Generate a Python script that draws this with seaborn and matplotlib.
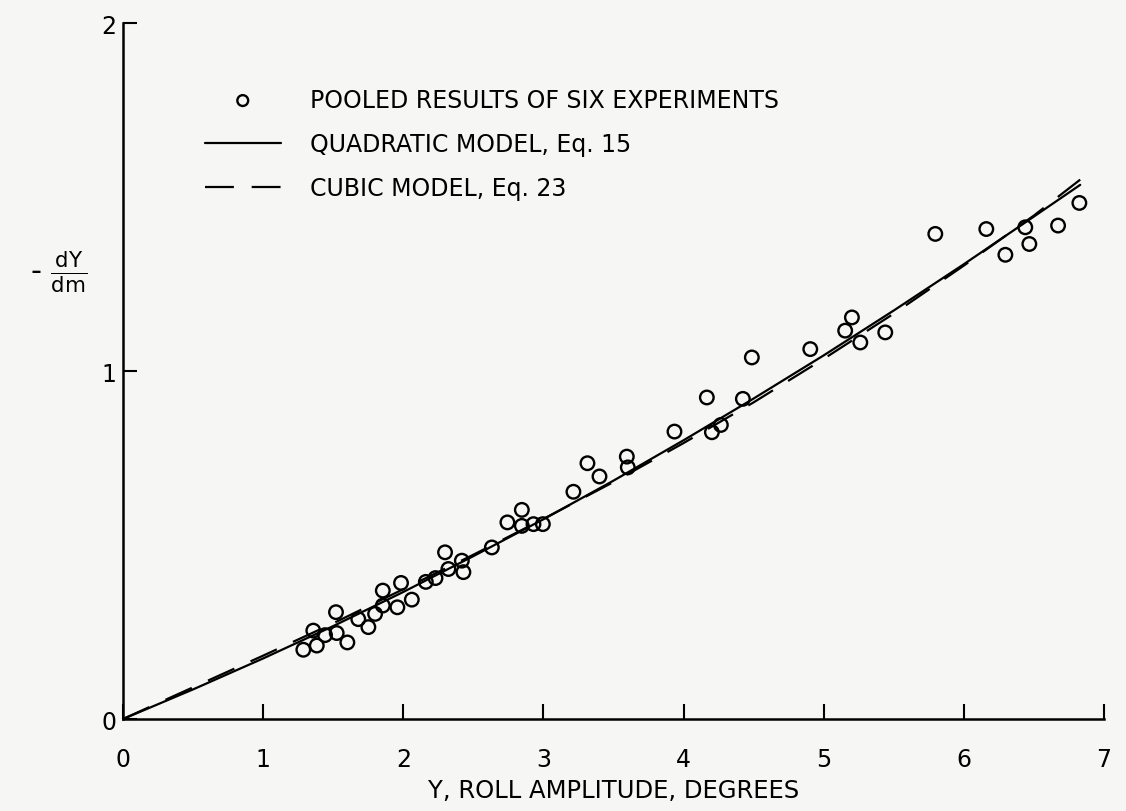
import matplotlib
matplotlib.use("Agg")
import matplotlib.pyplot as plt
import seaborn as sns
import pandas as pd

# ---- data ----
amp_deg = [1.287, 1.383, 1.358, 1.442, 1.525, 1.601, 1.520, 1.679, 1.751, 1.799,
           1.854, 1.854, 1.958, 1.984, 2.061, 2.161, 2.230, 2.322, 2.298, 2.418,
           2.429, 2.632, 2.743, 2.846, 2.846, 2.929, 2.996, 3.214, 3.314, 3.400,
           3.595, 3.602, 3.935, 4.166, 4.202, 4.266, 4.423, 4.487, 4.904, 5.153,
           5.201, 5.261, 5.439, 5.796, 6.160, 6.296, 6.438, 6.467, 6.672, 6.824]
dydm = [0.199, 0.211, 0.254, 0.241, 0.247, 0.220, 0.307, 0.287, 0.264, 0.302,
        0.326, 0.369, 0.321, 0.391, 0.343, 0.394, 0.405, 0.431, 0.479, 0.455,
        0.422, 0.493, 0.565, 0.601, 0.555, 0.560, 0.560, 0.653, 0.735, 0.697,
        0.754, 0.723, 0.826, 0.924, 0.824, 0.845, 0.920, 1.039, 1.063, 1.116,
        1.154, 1.082, 1.111, 1.394, 1.408, 1.334, 1.413, 1.365, 1.418, 1.483]

curve_x = [0.0, 0.5, 1.0, 1.5, 2.0, 2.5, 3.0, 3.5, 4.0, 4.5, 5.0, 5.5, 6.0, 6.5, 6.83]
quadratic_y = [0.0, 0.085, 0.174, 0.267, 0.365, 0.468, 0.574, 0.685, 0.801, 0.921,
               1.045, 1.174, 1.307, 1.444, 1.535]
cubic_y = [0.0, 0.091, 0.182, 0.275, 0.373, 0.472, 0.575, 0.681, 0.793, 0.910,
           1.035, 1.165, 1.303, 1.447, 1.550]

x_ticks = [0, 1, 2, 3, 4, 5, 6, 7]
y_ticks = [0, 1, 2]

labels = ["POOLED RESULTS OF SIX EXPERIMENTS",
          "QUADRATIC MODEL, Eq. 15",
          "CUBIC MODEL, Eq. 23"]
x_label = "Y, ROLL AMPLITUDE, DEGREES"
y_label = r'- $\frac{\mathrm{dY}}{\mathrm{dm}}$'

# ---- style ----
sns.set_style("ticks")
plt.rcParams['font.family'] = ['DejaVu Sans']
plt.rcParams['mathtext.fontset'] = 'dejavusans'
plt.rcParams['text.color'] = 'black'
plt.rcParams['axes.labelcolor'] = 'black'
bg = '#f6f6f4'

fig = plt.figure(figsize=(11.26, 8.12), dpi=100, facecolor=bg)
ax = fig.add_axes([0.1092, 0.1133, 0.8713, 0.8571], facecolor=bg)

pts = pd.DataFrame({"x": amp_deg, "y": dydm})
curves = pd.DataFrame({"x": curve_x, "quad": quadratic_y, "cubic": cubic_y})

sns.lineplot(data=curves, x="x", y="quad", ax=ax, color="black", lw=1.6,
             sort=False, label=labels[1], zorder=2)
sns.lineplot(data=curves, x="x", y="cubic", ax=ax, color="black", lw=1.6,
             sort=False, label=labels[2], zorder=2)
ax.lines[-1].set_dashes((13, 8))
sns.scatterplot(data=pts, x="x", y="y", ax=ax, marker="o", s=95,
                facecolor="none", edgecolor="black", linewidth=1.7,
                label=labels[0], zorder=3)

ax.set_xlim(0, 7)
ax.set_ylim(0, 2)
ax.set_xticks(x_ticks)
ax.set_yticks(y_ticks)
ax.set_xticklabels([str(t) for t in x_ticks])
ax.set_yticklabels([str(t) for t in y_ticks])
ax.tick_params(axis='x', direction='in', length=11, width=1.5, pad=20,
               labelsize=17, colors='black')
ax.tick_params(axis='y', direction='in', length=10, width=1.5, pad=5,
               labelsize=17, colors='black')
for s in ['top', 'right']:
    ax.spines[s].set_visible(False)
for s in ['left', 'bottom']:
    ax.spines[s].set_linewidth(1.8)
    ax.spines[s].set_color('black')

ax.set_xlabel(x_label, fontsize=17.5, va='center')
ax.xaxis.set_label_coords(0.5, -0.102)
ax.set_ylabel(y_label, fontsize=22, rotation=0, ha='center', va='center')
ax.yaxis.set_label_coords(-0.066, 0.643)

h, l = ax.get_legend_handles_labels()
order = [l.index(labels[0]), l.index(labels[1]), l.index(labels[2])]
leg = ax.legend([h[i] for i in order], [l[i] for i in order],
                loc='upper left', bbox_to_anchor=(0.0836, 0.907),
                borderaxespad=0, borderpad=0,
                frameon=False, fontsize=17, handlelength=3.2,
                handletextpad=1.25, labelspacing=0.85, markerscale=0.8,
                labelcolor='black')

fig.savefig("out.png", dpi=100, facecolor=bg)
